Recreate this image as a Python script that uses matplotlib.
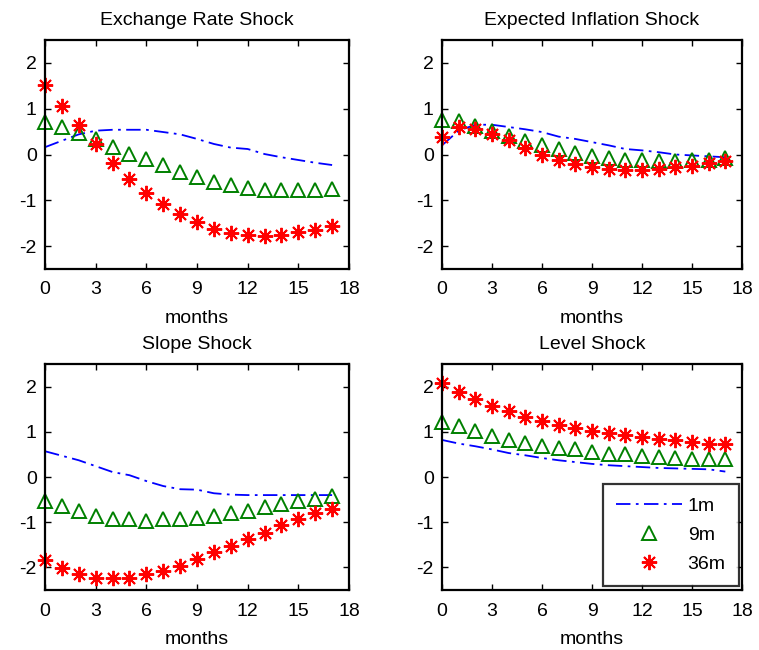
import matplotlib
matplotlib.use("Agg")
import matplotlib.pyplot as plt
import numpy as np

plt.rcParams['font.family'] = ['Liberation Sans', 'DejaVu Sans']
plt.rcParams['axes.unicode_minus'] = False

months = list(range(18))
titles = ["Exchange Rate Shock", "Expected Inflation Shock", "Slope Shock", "Level Shock"]
series_labels = ["1m", "9m", "36m"]
xticks = [0, 3, 6, 9, 12, 15, 18]
yticks = [-2, -1, 0, 1, 2]

# Exchange Rate Shock
er_1m = [0.16, 0.30, 0.44, 0.52, 0.54, 0.54, 0.54, 0.49, 0.44, 0.34, 0.23, 0.15, 0.12, 0.01, -0.06, -0.12, -0.18, -0.23]
er_9m = [0.70, 0.60, 0.47, 0.33, 0.17, 0.01, -0.10, -0.24, -0.39, -0.49, -0.60, -0.66, -0.73, -0.77, -0.77, -0.77, -0.77, -0.76]
er_36m = [1.52, 1.05, 0.65, 0.22, -0.18, -0.53, -0.84, -1.09, -1.30, -1.48, -1.63, -1.71, -1.76, -1.78, -1.75, -1.70, -1.64, -1.56]

# Expected Inflation Shock
ei_1m = [0.20, 0.52, 0.65, 0.65, 0.60, 0.55, 0.49, 0.39, 0.34, 0.27, 0.20, 0.12, 0.09, 0.05, 0.00, -0.02, -0.04, -0.06]
ei_9m = [0.75, 0.73, 0.63, 0.52, 0.41, 0.30, 0.21, 0.11, 0.04, -0.03, -0.07, -0.11, -0.12, -0.15, -0.15, -0.13, -0.11, -0.08]
ei_36m = [0.38, 0.61, 0.56, 0.44, 0.31, 0.14, 0.00, -0.13, -0.20, -0.28, -0.31, -0.33, -0.33, -0.31, -0.28, -0.25, -0.19, -0.15]

# Slope Shock
sl_1m = [0.57, 0.47, 0.37, 0.24, 0.11, 0.04, -0.09, -0.20, -0.27, -0.28, -0.36, -0.39, -0.40, -0.40, -0.40, -0.40, -0.40, -0.40]
sl_9m = [-0.53, -0.65, -0.76, -0.86, -0.93, -0.94, -0.97, -0.94, -0.94, -0.91, -0.86, -0.80, -0.76, -0.67, -0.60, -0.54, -0.48, -0.43]
sl_36m = [-1.84, -2.02, -2.15, -2.23, -2.24, -2.23, -2.15, -2.08, -1.97, -1.82, -1.67, -1.53, -1.38, -1.23, -1.07, -0.94, -0.80, -0.71]

# Level Shock
lv_1m = [0.82, 0.74, 0.68, 0.61, 0.53, 0.48, 0.42, 0.37, 0.33, 0.29, 0.26, 0.24, 0.22, 0.20, 0.19, 0.18, 0.17, 0.12]
lv_9m = [1.22, 1.12, 1.01, 0.91, 0.82, 0.75, 0.69, 0.64, 0.61, 0.55, 0.51, 0.50, 0.47, 0.44, 0.42, 0.40, 0.40, 0.40]
lv_36m = [2.08, 1.88, 1.72, 1.58, 1.45, 1.32, 1.23, 1.14, 1.08, 1.02, 0.97, 0.92, 0.88, 0.84, 0.81, 0.77, 0.74, 0.72]

panels = [(er_1m, er_9m, er_36m), (ei_1m, ei_9m, ei_36m), (sl_1m, sl_9m, sl_36m), (lv_1m, lv_9m, lv_36m)]

fig = plt.figure(figsize=(7.59, 6.5), dpi=100)
W, H = 759.0, 650.0
boxes = [
    (45, 40, 349, 269),
    (442, 40, 742, 269),
    (45, 364, 349, 590),
    (442, 364, 742, 590),
]

blue = '#0000ff'
green = '#008000'
red = '#ff0000'
fs = 14

for i, (title, data, box) in enumerate(zip(titles, panels, boxes)):
    x0, y0, x1, y1 = box
    ax = fig.add_axes([x0 / W, 1 - y1 / H, (x1 - x0) / W, (y1 - y0) / H])
    d1, d9, d36 = data
    ax.plot(months, d1, color=blue, linestyle=(0, (8, 3, 1.5, 3)), linewidth=1.3, label=series_labels[0])
    ax.plot(months, d9, linestyle='none', marker='^', markersize=10.5, markerfacecolor='none',
            markeredgecolor=green, markeredgewidth=1.4, label=series_labels[1])
    ax.plot(months, d36, linestyle='none', marker=(8, 2, 0), markersize=11,
            markeredgecolor=red, markeredgewidth=1.4, color=red, label=series_labels[2])
    ax.set_xlim(0, 18)
    ax.set_ylim(-2.5, 2.5)
    ax.set_xticks(xticks)
    ax.set_yticks(yticks)
    ax.tick_params(axis='both', direction='in', top=True, right=True, labelsize=fs, length=4, width=1)
    ax.tick_params(axis='x', pad=9)
    ax.tick_params(axis='y', pad=6)
    for sp in ax.spines.values():
        sp.set_linewidth(1.6)
    ax.set_title(title, fontsize=fs, pad=11)
    ax.set_xlabel('months', fontsize=fs, labelpad=8)
    for ln in ax.lines:
        ln.set_clip_on(False)
    if i == 3:
        leg = ax.legend(loc='lower left', bbox_to_anchor=(0.537, 0.018, 0.453, 0.442), mode='expand',
                        fontsize=fs, frameon=True, fancybox=False, edgecolor='black',
                        handlelength=3.4, handletextpad=0.3, borderaxespad=0, labelspacing=0.6,
                        borderpad=0.65)
        leg.get_frame().set_linewidth(1.6)

fig.savefig('out.png', dpi=100)
